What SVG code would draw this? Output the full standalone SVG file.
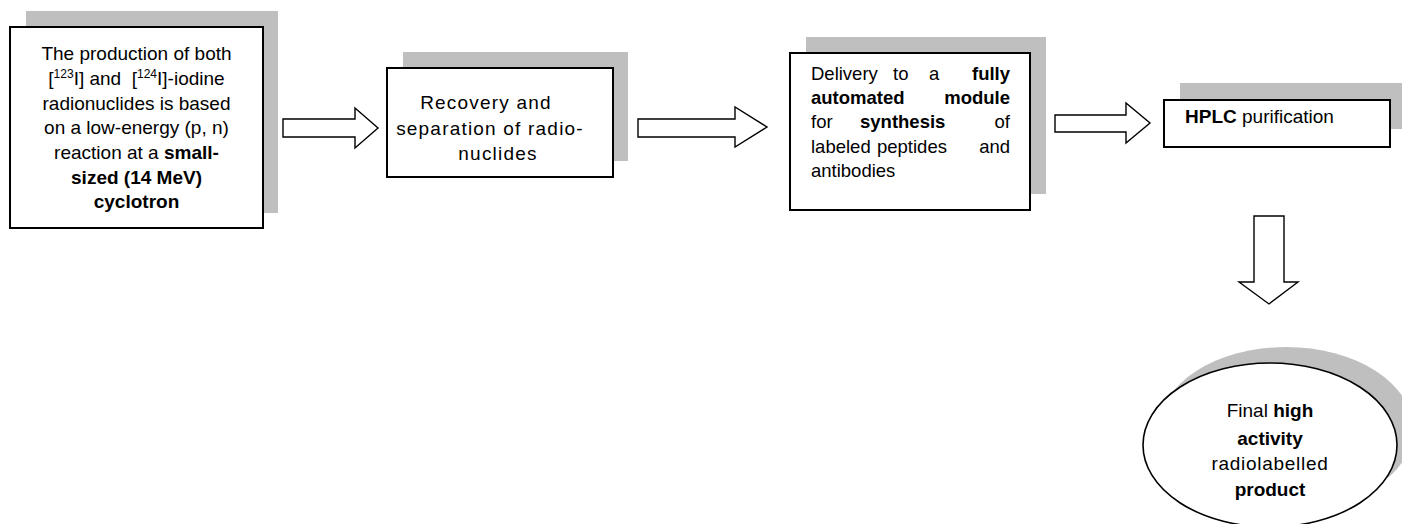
<svg xmlns="http://www.w3.org/2000/svg" width="1402" height="524" viewBox="0 0 1402 524">
<style>
.shadow{fill:#bfbfbf;stroke:none}
.box{fill:#ffffff;stroke:#000000;stroke-width:2}
.arrow{fill:#ffffff;stroke:#000000;stroke-width:1.4;stroke-linejoin:miter}
text{font-family:"Liberation Sans",Arial,sans-serif;font-size:19px;fill:#000000}
.c{text-anchor:middle}
.e{text-anchor:end}
.b{font-weight:bold}
.sup{font-size:12px}
.sp{letter-spacing:1.2px}
.d{font-size:18.5px}
</style>
<rect width="1402" height="524" fill="#ffffff"/>
<g id="connectors">
<polygon class="arrow" points="283,119 355,119 355,108 378,128 355,148 355,137 283,137"/>
<polygon class="arrow" points="638,119 735,119 735,107 767,127 735,147 735,137 638,137"/>
<polygon class="arrow" points="1055,115 1126,115 1126,103 1150,123 1126,143 1126,132 1055,132"/>
<polygon class="arrow" points="1254,216 1284,216 1284,282 1298,282 1269,304 1239,282 1254,282"/>
</g>
<g id="node-production">
<rect class="shadow" x="26" y="11" width="252" height="202"/>
<rect class="box" x="10" y="27" width="253" height="201"/>
<text class="c" x="136.5" y="60">The production of both</text>
<text class="c" x="136.5" y="85" xml:space="preserve">[<tspan class="sup" dy="-7">123</tspan><tspan dy="7">I] and  [</tspan><tspan class="sup" dy="-7">124</tspan><tspan dy="7">I]-iodine</tspan></text>
<text class="c" x="136.5" y="110">radionuclides is based</text>
<text class="c" x="136.5" y="134">on a low-energy (p, n)</text>
<text class="c" x="136.5" y="159">reaction at a <tspan class="b">small-</tspan></text>
<text class="c b" x="136.5" y="184">sized (14 MeV)</text>
<text class="c b" x="136.5" y="208">cyclotron</text>
</g>
<g id="node-recovery">
<rect class="shadow" x="403" y="52" width="225" height="109"/>
<rect class="box" x="387" y="68" width="226" height="109"/>
<text class="c sp" x="486" y="109">Recovery and</text>
<text class="c sp" x="490" y="135">separation of radio-</text>
<text class="c sp" x="498" y="160">nuclides</text>
</g>
<g id="node-delivery">
<rect class="shadow" x="806" y="37" width="240" height="157"/>
<rect class="box" x="790" y="53" width="240" height="157"/>
<text class="d" x="811" y="80">Delivery</text>
<text class="d" x="893" y="80">to</text>
<text class="d" x="929" y="80">a</text>
<text class="d e b" x="1010" y="80">fully</text>
<text class="d b" x="811" y="104">automated</text>
<text class="d e b" x="1010" y="104">module</text>
<text class="d" x="811" y="128">for</text>
<text class="d b" x="860" y="128">synthesis</text>
<text class="d e" x="1010" y="128">of</text>
<text class="d" x="811" y="153">labeled</text>
<text class="d" x="877" y="153">peptides</text>
<text class="d e" x="1010" y="153">and</text>
<text class="d" x="811" y="177">antibodies</text>
</g>
<g id="node-hplc">
<rect class="shadow" x="1180" y="83" width="222" height="46"/>
<rect class="box" x="1164" y="100" width="226" height="47"/>
<text x="1185" y="123"><tspan class="b">HPLC</tspan> purification</text>
</g>
<g id="node-product">
<ellipse class="shadow" cx="1286" cy="429" rx="127" ry="82"/>
<ellipse class="box" cx="1270" cy="445" rx="127" ry="82" style="stroke-width:1.6"/>
<text class="c" x="1270" y="417">Final <tspan class="b">high</tspan></text>
<text class="c b" x="1270" y="445">activity</text>
<text class="c" x="1270" y="470" style="letter-spacing:0.7px">radiolabelled</text>
<text class="c b" x="1270" y="496">product</text>
</g>
</svg>
